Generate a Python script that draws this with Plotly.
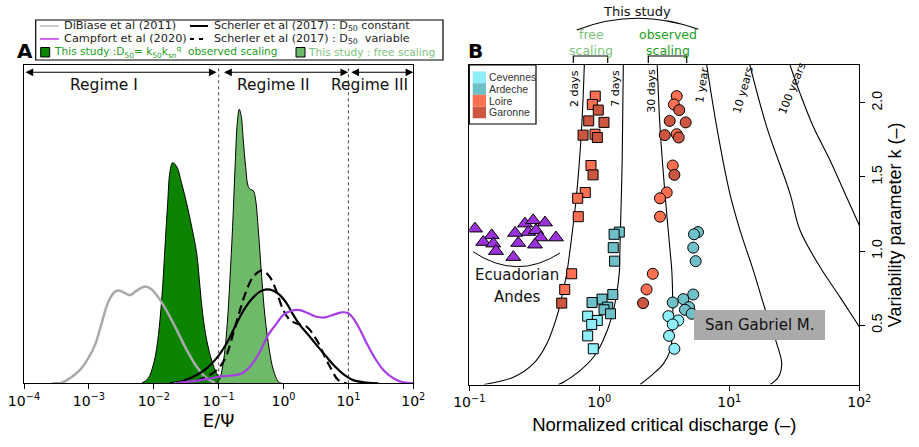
import numpy as np
import plotly.graph_objects as go

W, H = 919, 447

# ---------------- panel A : E/Psi distributions (density, arbitrary units)
dibiase_x = [2.67e-4, 3.80e-4, 5.11e-4, 7.30e-4, 9.80e-4, 1.24e-3, 1.57e-3, 2.00e-3, 2.53e-3, 3.01e-3, 3.60e-3,
             4.30e-3, 5.45e-3, 7.32e-3, 9.29e-3, 1.247e-2, 1.778e-2, 2.254e-2, 3.215e-2, 4.585e-2, 6.535e-2, 8.78e-2]
dibiase_y = [0, 0.002, 0.016, 0.042, 0.079, 0.120, 0.188, 0.257, 0.288, 0.291, 0.283,
             0.277, 0.291, 0.304, 0.295, 0.262, 0.209, 0.168, 0.105, 0.052, 0.016, 0.002]

observed_x = [6.50e-3, 8.24e-3, 9.84e-3, 1.108e-2, 1.247e-2, 1.371e-2, 1.490e-2, 1.637e-2, 1.778e-2, 1.954e-2, 2.254e-2,
              2.69e-2, 3.215e-2, 3.84e-2, 4.585e-2, 5.15e-2, 5.66e-2, 6.535e-2, 7.80e-2, 9.31e-2, 0.118, 0.1496]
observed_y = [0, 0.016, 0.058, 0.110, 0.199, 0.304, 0.429, 0.565, 0.665, 0.693, 0.681,
              0.628, 0.565, 0.492, 0.408, 0.304, 0.220, 0.136, 0.073, 0.031, 0.005, 0]

free_x = [0.0931, 0.1047, 0.1151, 0.125, 0.1358, 0.1492, 0.1642, 0.1784, 0.1937, 0.208, 0.2233, 0.2397,
          0.2604, 0.2864, 0.311, 0.342, 0.3715, 0.4085, 0.460, 0.518, 0.604, 0.696, 0.830, 0.935]
free_y = [0, 0.016, 0.052, 0.105, 0.188, 0.325, 0.492, 0.670, 0.817, 0.861, 0.838, 0.764,
          0.681, 0.618, 0.609, 0.605, 0.576, 0.482, 0.335, 0.209, 0.105, 0.042, 0.005, 0]

sch_const_x = [0.01778, 0.0285, 0.0458, 0.0653, 0.0931, 0.1328, 0.189, 0.2545, 0.342, 0.4335, 0.5495, 0.696,
               0.881, 1.117, 1.415, 1.792, 2.41, 3.24, 4.35, 5.85, 8.34, 11.9, 19.1, 28.9]
sch_const_y = [0, 0.008, 0.026, 0.047, 0.079, 0.126, 0.188, 0.236, 0.270, 0.288, 0.295, 0.291,
               0.277, 0.251, 0.215, 0.183, 0.152, 0.120, 0.089, 0.058, 0.029, 0.010, 0.002, 0]

sch_var_x = [0.0458, 0.0734, 0.1047, 0.1328, 0.168, 0.2133, 0.270, 0.342, 0.460, 0.582, 0.696,
             0.830, 0.991, 1.256, 1.59, 2.27, 3.24, 4.10, 5.20, 6.99, 9.39]
sch_var_y = [0.008, 0.026, 0.052, 0.089, 0.157, 0.230, 0.293, 0.335, 0.354, 0.340, 0.314,
             0.272, 0.230, 0.199, 0.188, 0.178, 0.136, 0.094, 0.052, 0.010, 0]

campfort_x = [0.0200, 0.0361, 0.0653, 0.1047, 0.168, 0.226, 0.2864, 0.363, 0.460, 0.582, 0.785, 0.991, 1.333, 1.792,
              2.41, 3.24, 4.35, 5.85, 7.85, 9.96, 11.9, 15.1, 19.1, 25.6, 34.5, 49.2, 70.2, 100]
campfort_y = [0, 0.005, 0.013, 0.021, 0.025, 0.031, 0.047, 0.073, 0.110, 0.152, 0.188, 0.215, 0.228, 0.230,
              0.220, 0.209, 0.207, 0.215, 0.223, 0.220, 0.204, 0.168, 0.126, 0.079, 0.042, 0.016, 0.003, 0]

regime_bounds = [0.1, 10]
regime_names = ["Regime I", "Regime II", "Regime III"]

# ---------------- panel B : normalized critical discharge vs variability k
ecuador_q = [0.1106, 0.1487, 0.128, 0.153, 0.1604, 0.218, 0.268, 0.310, 0.382, 0.284, 0.326, 0.225, 0.354, 0.464, 0.238, 0.320]
ecuador_k = [1.151, 1.106, 1.061, 1.050, 1.0, 0.959, 1.185, 1.207, 1.192, 1.128, 1.140, 1.122, 1.091, 1.091, 1.054, 1.043]

loire_free_q = [0.931, 0.884, 0.927, 0.863, 0.780, 0.682, 0.689, 0.613, 0.542]
loire_obs_q = [3.94, 3.75, 3.94, 3.67, 3.30, 2.93, 2.93, 2.58, 2.31]
loire_k = [2.045, 1.989, 1.788, 1.577, 1.395, 1.356, 1.232, 0.847, 0.741]

garonne_free_q = [0.982, 0.829, 1.087, 0.750, 0.966, 0.895, 0.514]
garonne_obs_q = [4.12, 3.48, 4.62, 3.19, 4.08, 3.78, 2.17]
garonne_k = [1.951, 1.878, 1.868, 1.782, 1.766, 1.514, 0.649]

ardeche_free_q = [1.425, 1.30, 1.28, 1.31, 1.27, 1.05, 0.879, 1.16, 1.087, 1.22]
ardeche_obs_q = [5.74, 5.35, 5.28, 5.51, 5.28, 4.43, 3.67, 4.90, 4.56, 5.14]
ardeche_k = [1.128, 1.113, 1.023, 0.932, 0.707, 0.676, 0.653, 0.622, 0.604, 0.577]

cevennes_free_q = [0.814, 0.965, 0.874, 0.814, 0.899]
cevennes_obs_q = [3.40, 4.05, 3.67, 3.44, 3.78]
cevennes_k = [0.561, 0.532, 0.505, 0.428, 0.341]

# return-period iso-lines
rp_labels = ["2 days", "7 days", "30 days", "1 year", "10 years", "100 years"]
rp_q = [
    [0.767, 0.732, 0.670, 0.595, 0.561, 0.514, 0.470, 0.394, 0.310, 0.218, 0.13],
    [1.53, 1.50, 1.44, 1.43, 1.36, 1.245, 1.07, 0.90, 0.711, 0.529, 0.485],
    [2.79, 2.93, 3.20, 3.50, 3.61, 3.67, 3.67, 3.50, 3.11, 2.60, 2.06],
    [6.70, 8.0, 10.1, 12.1, 15.3, 18.8, 23.2, 25.3, 23.8, 20.6],
    [14.4, 19.4, 29.3, 35.0, 49.9, 71.1, 100],
    [29.3, 35.0, 44.3, 59.5, 77.6, 100],
]
rp_k = [
    [2.255, 1.838, 1.388, 1.005, 0.847, 0.689, 0.554, 0.374, 0.239, 0.149, 0.1],
    [2.255, 1.613, 1.005, 0.87, 0.712, 0.554, 0.397, 0.284, 0.194, 0.115, 0.1],
    [2.255, 1.838, 1.388, 1.005, 0.87, 0.667, 0.464, 0.329, 0.239, 0.172, 0.1],
    [2.255, 1.838, 1.388, 1.14, 0.87, 0.611, 0.374, 0.239, 0.149, 0.1],
    [2.255, 1.838, 1.388, 1.14, 0.892, 0.689, 0.49],
    [2.255, 2.064, 1.838, 1.613, 1.388, 1.174],
]
# label anchor (q, k) and angle for each iso-line
rp_label_q = [0.65, 1.34, 2.53, 6.14, 12.7, 30.9]
rp_label_k = [2.10, 2.10, 2.08, 2.12, 2.086, 2.10]
rp_label_angle = [-90, -90, -90, -81, -74, -68]

river_names = ["Cevennes", "Ardeche", "Loire", "Garonne"]
river_colors = ["#8eeefa", "#6fc1c9", "#ff6f52", "#cc5640"]

GREEN_DARK = "#0c8400"
GREEN_LIGHT = "#6fba69"
PURPLE = "#a63ee6"


def X(px):
    return px / W


def Y(py):
    return 1 - py / H


def label(px, py, text, size, color="#111", anchor="center", family=None, **kw):
    f = dict(size=size, color=color)
    if family:
        f["family"] = family
    return dict(xref="paper", yref="paper", x=X(px), y=Y(py), text=text, showarrow=False,
                xanchor=anchor, yanchor="middle", font=f, **kw)


fig = go.Figure()

# panel A
fig.add_trace(go.Scatter(x=observed_x, y=observed_y, mode="lines", line=dict(color="black", width=1, shape="spline"),
                         fill="tozeroy", fillcolor=GREEN_DARK))
fig.add_trace(go.Scatter(x=free_x, y=free_y, mode="lines", line=dict(color="black", width=1, shape="spline"),
                         fill="tozeroy", fillcolor=GREEN_LIGHT))
for b in regime_bounds:
    fig.add_trace(go.Scatter(x=[b, b], y=[0, 1], mode="lines", line=dict(color="#444", width=1, dash="dot")))
fig.add_trace(go.Scatter(x=dibiase_x, y=dibiase_y, mode="lines", line=dict(color="#aaaaaa", width=2.5, shape="spline")))
fig.add_trace(go.Scatter(x=sch_const_x, y=sch_const_y, mode="lines", line=dict(color="black", width=2.2, shape="spline")))
fig.add_trace(go.Scatter(x=sch_var_x, y=sch_var_y, mode="lines",
                         line=dict(color="black", width=2.2, shape="spline", dash="9px,5px")))
fig.add_trace(go.Scatter(x=campfort_x, y=campfort_y, mode="lines", line=dict(color=PURPLE, width=2.2, shape="spline")))

# panel B iso-lines
for q, k in zip(rp_q, rp_k):
    fig.add_trace(go.Scatter(x=q, y=k, xaxis="x2", yaxis="y2", mode="lines",
                             line=dict(color="black", width=1.1, shape="spline")))

mk = dict(line=dict(color="black", width=1))
fig.add_trace(go.Scatter(x=ecuador_q, y=ecuador_k, xaxis="x2", yaxis="y2", mode="markers",
                         marker=dict(symbol="triangle-up", size=13, color="#9b32dc", **mk)))
groups = [
    (cevennes_free_q, cevennes_obs_q, cevennes_k, river_colors[0]),
    (ardeche_free_q, ardeche_obs_q, ardeche_k, river_colors[1]),
    (loire_free_q, loire_obs_q, loire_k, river_colors[2]),
    (garonne_free_q, garonne_obs_q, garonne_k, river_colors[3]),
]
for qf, qo, k, c in groups:
    fig.add_trace(go.Scatter(x=qf, y=k, xaxis="x2", yaxis="y2", mode="markers",
                             marker=dict(symbol="square", size=10, color=c, **mk)))
    fig.add_trace(go.Scatter(x=qo, y=k, xaxis="x2", yaxis="y2", mode="markers",
                             marker=dict(symbol="circle", size=11, color=c, **mk)))

shapes = []
ann = []

# --- legend panel A
shapes.append(dict(type="rect", xref="paper", yref="paper", x0=X(35.7), x1=X(443), y0=Y(60), y1=Y(20),
                   line=dict(color="black", width=1.2)))
for x0, x1, py, col, dash, w in [(40, 59, 26, "#bbbbbb", "solid", 1.5), (190, 208, 26, "black", "solid", 2),
                                 (40, 59, 39, "#cc33ff", "solid", 1.5), (190, 208, 39, "black", "4px,5px", 2)]:
    shapes.append(dict(type="line", xref="paper", yref="paper", x0=X(x0), x1=X(x1), y0=Y(py), y1=Y(py),
                       line=dict(color=col, width=w, dash=dash)))
for x0, col in [(40.7, GREEN_DARK), (296, GREEN_LIGHT)]:
    shapes.append(dict(type="rect", xref="paper", yref="paper", x0=X(x0), x1=X(x0 + 9), y0=Y(57), y1=Y(47.5),
                       fillcolor=col, line=dict(color="black", width=1)))
leg_a = [
    (62, 26, "DiBiase et al (2011)", "#222", 11.3),
    (212, 26, "Scherler et al (2017) : D<sub>50</sub> constant", "#222", 11.1),
    (62, 39, "Campfort et al (2020)", "#222", 11.3),
    (212, 39, "Scherler et al (2017) : D<sub>50</sub>  variable", "#222", 11.1),
    (52, 52, "This study :D<sub>50</sub>= k<sub>50</sub>k<sub>sn</sub><sup>q</sup>  observed scaling", "#22a022", 10.6),
    (305.5, 52, "This study : free scaling", "#7cc47c", 10.6),
]
for px, py, t, c, s in leg_a:
    ann.append(label(px, py, t, s, c, anchor="left"))

# regime arrows and names
arrows = [(1.0e-4, 0.093), (0.115, 9.9), (10.5, 100)]
for a, b in arrows:
    ann.append(dict(xref="x", yref="y", axref="x", ayref="y", x=np.log10(b), y=0.977, ax=np.log10(a), ay=0.977,
                    text="", showarrow=True, arrowhead=2, startarrowhead=2, arrowside="end+start",
                    arrowsize=1.4, startarrowsize=1.4, arrowwidth=1.1, arrowcolor="black"))
for name, xv in zip(regime_names, [1.71e-3, 0.687, 21.4]):
    ann.append(dict(xref="x", yref="y", x=np.log10(xv), y=0.937, text=name, showarrow=False,
                    xanchor="center", yanchor="middle", font=dict(size=15.5, color="#111")))

ann.append(label(25, 51.5, "<b>A</b>", 20, "black"))
ann.append(label(475, 51.5, "<b>B</b>", 20, "black"))

# --- panel B header
shapes.append(dict(type="path", xref="paper", yref="paper", line=dict(color="black", width=1.2),
                   path=f"M {X(576.7)},{Y(30)} Q {X(635.9)},{Y(6.9)} {X(698.3)},{Y(29.3)}"))
for x0, x1 in [(573.3, 607.7), (648.3, 686.7)]:
    shapes.append(dict(type="path", xref="paper", yref="paper", line=dict(color="black", width=1.2),
                       path=f"M {X(x0)},{Y(63)} L {X(x0)},{Y(56)} L {X(x1)},{Y(56)} L {X(x1)},{Y(63)}"))
ann.append(label(637, 11, "This study", 13))
for t, px, py, c in [("free", 591, 35, "#7cc47c"), ("scaling", 591, 50, "#7cc47c"),
                     ("observed", 667.7, 35, "#22a022"), ("scaling", 667.7, 50, "#22a022")]:
    ann.append(label(px, py, t, 12.5, c))

# --- panel B legend
shapes.append(dict(type="rect", xref="paper", yref="paper", x0=X(469.3), x1=X(536), y0=Y(124), y1=Y(65),
                   line=dict(color="black", width=1.2), fillcolor="white"))
for i, (name, col) in enumerate(zip(river_names, river_colors)):
    py = 77.3 + i * 11.7
    shapes.append(dict(type="rect", xref="paper", yref="paper", x0=X(472.7), x1=X(486), y0=Y(py + 5.85),
                       y1=Y(py - 5.85), fillcolor=col, line=dict(width=0)))
    ann.append(label(487, py, name, 10.5, "#333", anchor="left", family="Liberation Sans"))

# Ecuadorian Andes
shapes.append(dict(type="path", xref="paper", yref="paper", line=dict(color="black", width=1),
                   path=f"M {X(473)},{Y(251.7)} Q {X(516.9)},{Y(281)} {X(560)},{Y(253)}"))
ann.append(label(517, 275, "Ecuadorian", 15))
ann.append(label(517, 296.7, "Andes", 15))

# San Gabriel
shapes.append(dict(type="rect", xref="paper", yref="paper", x0=X(694), x1=X(825), y0=Y(340), y1=Y(310),
                   fillcolor="#aaaaaa", line=dict(width=0), layer="above"))
ann.append(label(759.5, 325, "San Gabriel M.", 15))

# iso-line labels
for t, q, k, a in zip(rp_labels, rp_label_q, rp_label_k, rp_label_angle):
    ann.append(dict(xref="x2", yref="y2", x=np.log10(q), y=k, text=t, showarrow=False, textangle=a,
                    xanchor="center", yanchor="middle", font=dict(size=11, color="black")))

axis_common = dict(showline=True, mirror=True, linecolor="black", linewidth=1.2, showgrid=False, zeroline=False,
                   ticks="outside", ticklen=5, tickcolor="black", automargin=False)
dec_vals_a = [1e-4, 1e-3, 1e-2, 1e-1, 1, 10, 100]
dec_text_a = ["10<sup>−4</sup>", "10<sup>−3</sup>", "10<sup>−2</sup>", "10<sup>−1</sup>", "10<sup>0</sup>",
              "10<sup>1</sup>", "10<sup>2</sup>"]

fig.update_layout(
    width=W, height=H, margin=dict(l=0, r=0, t=0, b=0),
    paper_bgcolor="white", plot_bgcolor="white", showlegend=False,
    font=dict(family="DejaVu Sans", color="black"),
    xaxis=dict(domain=[X(24), X(413.3)], type="log", range=[-4, 2], tickvals=dec_vals_a, ticktext=dec_text_a,
               tickfont=dict(size=14), title=dict(text="E/Ψ", font=dict(size=18), standoff=6), **axis_common),
    yaxis=dict(domain=[Y(383.3), Y(65)], range=[0, 1], showticklabels=False,
               **{**axis_common, "ticks": ""}),
    xaxis2=dict(domain=[X(469.3), X(859.3)], type="log", range=[-1, 2], anchor="y2",
                tickvals=[0.1, 1, 10, 100], ticktext=dec_text_a[3:], tickfont=dict(size=14),
                title=dict(text="Normalized critical discharge (–)", font=dict(size=18.5, family="Liberation Sans"),
                           standoff=8), **axis_common),
    yaxis2=dict(domain=[Y(384.5), Y(65)], range=[0.1, 2.255], anchor="x2", side="right",
                tickvals=[0.5, 1.0, 1.5, 2.0], ticktext=["0.5", "1.0", "1.5", "2.0"], tickangle=-90,
                tickfont=dict(size=14, family="Liberation Sans"),
                title=dict(text="Variability parameter k (–)", font=dict(size=18, family="Liberation Sans"),
                           standoff=4), **axis_common),
    shapes=shapes, annotations=ann,
)

# the page's default 8px body margin would push the figure off the window
fig.write_html("out.html", config={"displayModeBar": False},
               post_script="document.body.style.margin='0px';")
